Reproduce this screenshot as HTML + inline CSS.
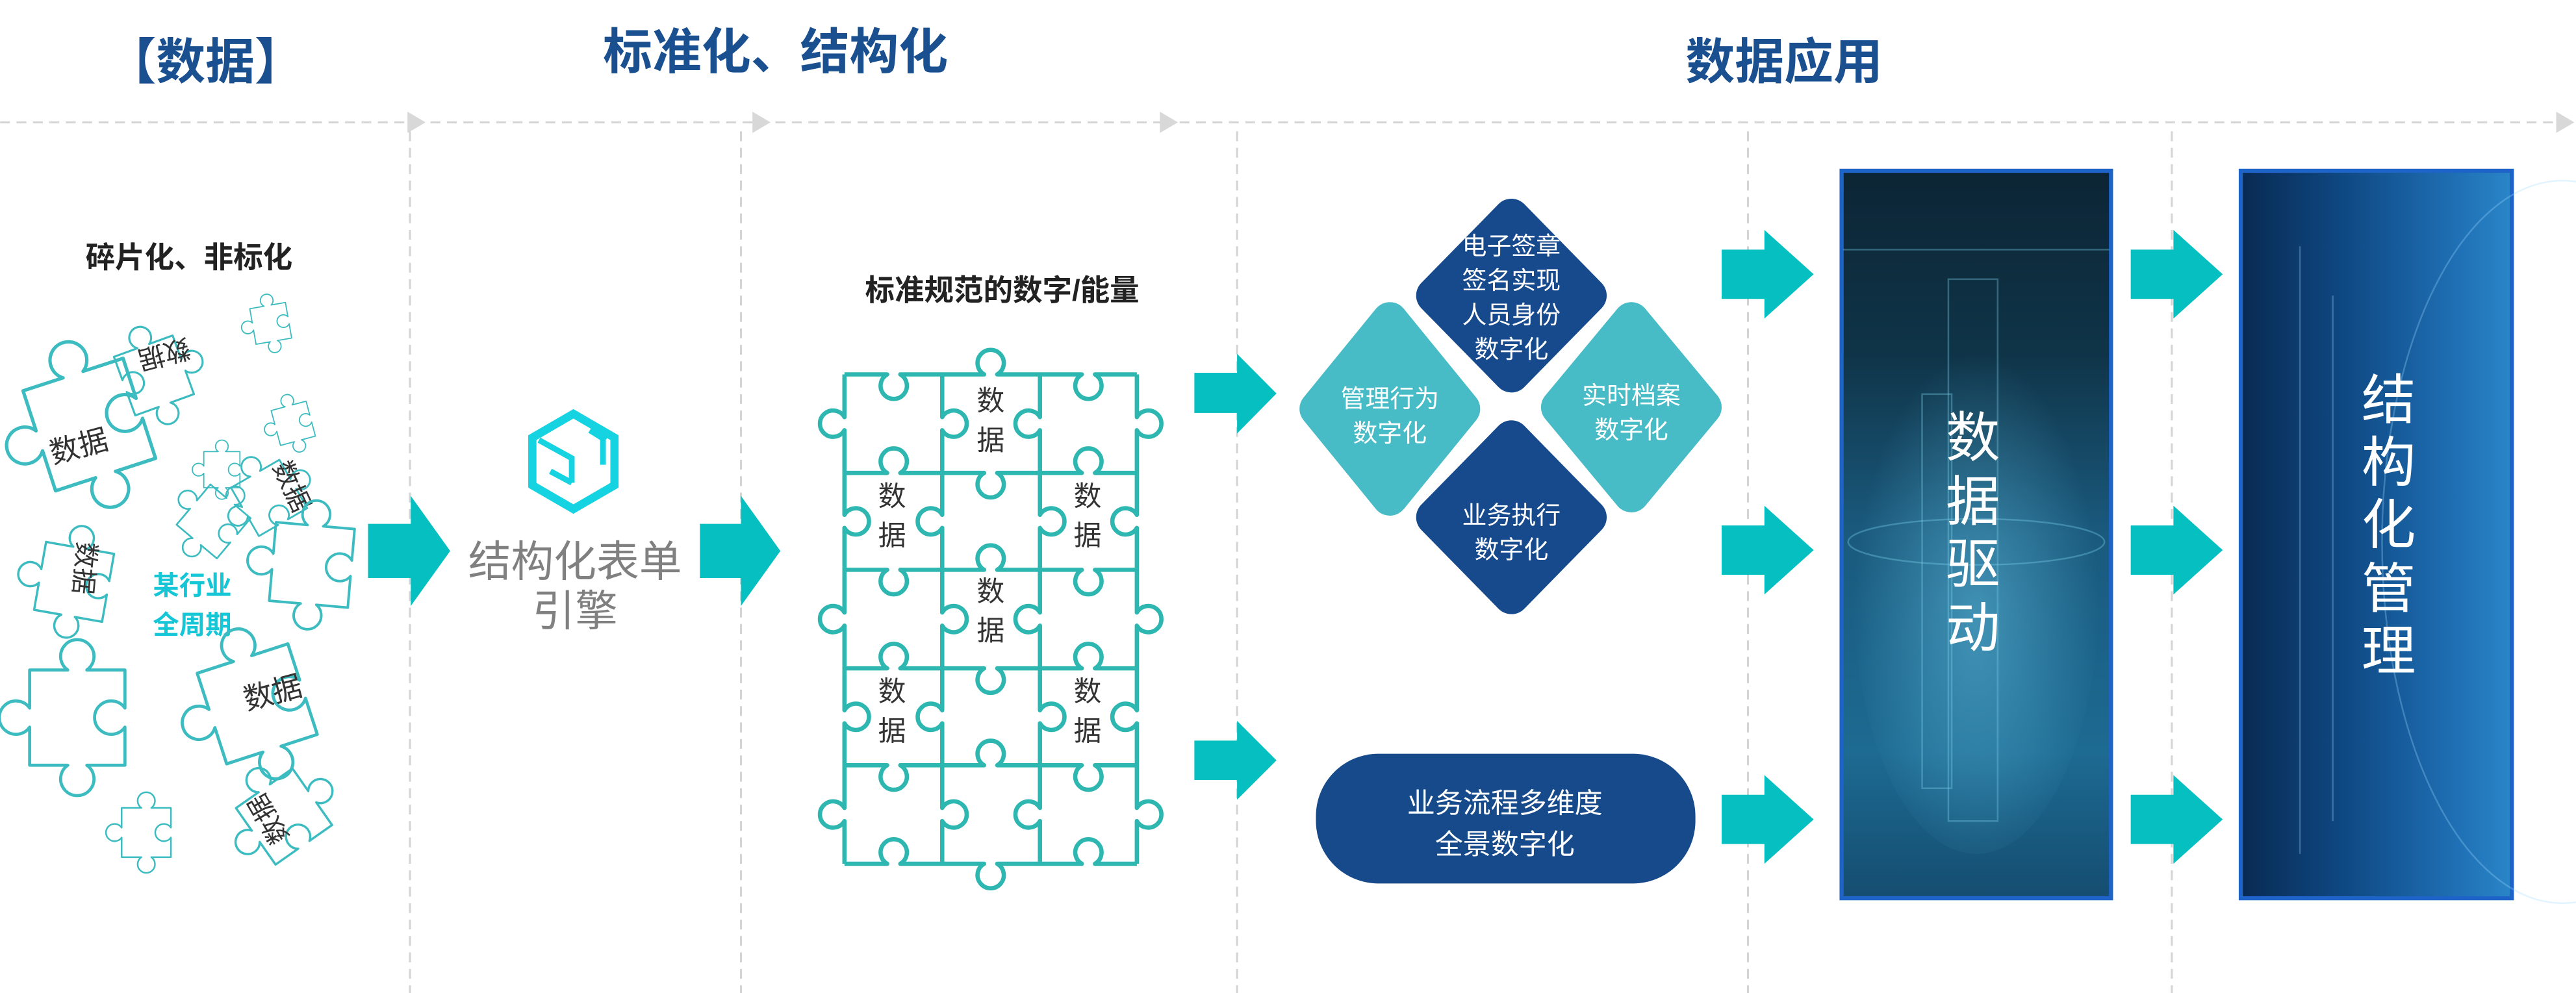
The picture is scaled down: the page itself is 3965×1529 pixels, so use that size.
<!DOCTYPE html>
<html><head><meta charset="utf-8"><style>
html,body{margin:0;padding:0;background:#fff;}
svg{display:block;}
text{font-family:"Liberation Sans","Noto Sans CJK SC",sans-serif;}
</style></head><body>
<svg width="3965" height="1529" viewBox="0 0 1568 604.7" xmlns="http://www.w3.org/2000/svg">
<defs>
<path id="pc" d="M0,0 H16 A7,7 0 1 1 24,0 H40 V16 A7,7 0 1 0 40,24 V40 H24 A7,7 0 1 1 16,40 H0 V24 A7,7 0 1 1 0,16 Z" fill="none" stroke="#3cbcc0" stroke-width="1.3" stroke-linejoin="round"/>
<linearGradient id="g1" x1="0" y1="0" x2="0" y2="1">
<stop offset="0" stop-color="#0c2535"/><stop offset="0.25" stop-color="#0f3448"/><stop offset="0.5" stop-color="#1a5a7e"/><stop offset="0.8" stop-color="#1d6a92"/><stop offset="1" stop-color="#154d70"/>
</linearGradient>
<linearGradient id="g2" x1="0" y1="0" x2="1" y2="0">
<stop offset="0" stop-color="#082a52"/><stop offset="0.4" stop-color="#0f4a85"/><stop offset="0.8" stop-color="#1f70b5"/><stop offset="1" stop-color="#2a86c8"/>
</linearGradient>
<radialGradient id="gl" cx="0.5" cy="0.55" r="0.5"><stop offset="0" stop-color="#6fd0f0" stop-opacity="0.45"/><stop offset="1" stop-color="#6fd0f0" stop-opacity="0"/></radialGradient>
</defs>

<!-- titles -->
<text x="125" y="48" font-size="30" font-weight="bold" fill="#1a5090" text-anchor="middle">【数据】</text>
<text x="472" y="42" font-size="30" font-weight="bold" fill="#1a5090" text-anchor="middle">标准化、结构化</text>
<text x="1086" y="48" font-size="30" font-weight="bold" fill="#1a5090" text-anchor="middle">数据应用</text>

<!-- dashed guides -->
<g stroke="#d4d4d4" stroke-width="1.2" stroke-dasharray="6,4" fill="none">
<line x1="0" y1="74.5" x2="250" y2="74.5"/>
<line x1="262" y1="74.5" x2="458" y2="74.5"/>
<line x1="472" y1="74.5" x2="708" y2="74.5"/>
<line x1="718" y1="74.5" x2="1556" y2="74.5"/>
<line x1="249.5" y1="80" x2="249.5" y2="605"/>
<line x1="451" y1="80" x2="451" y2="605"/>
<line x1="753" y1="80" x2="753" y2="605"/>
<line x1="1064" y1="80" x2="1064" y2="605"/>
<line x1="1322" y1="80" x2="1322" y2="605"/>
</g>
<g fill="#d8d8d8">
<polygon points="248,68 259,74.5 248,81"/>
<polygon points="458,68 469,74.5 458,81"/>
<polygon points="706,68 717,74.5 706,81"/>
<polygon points="1556,68 1567,74.5 1556,81"/>
</g>

<!-- left column -->
<text x="115" y="163" font-size="18" font-weight="bold" fill="#222" text-anchor="middle">碎片化、非标化</text>
<use href="#pc" transform="translate(14,238) rotate(-18) scale(1.6)"/>
<text x="48" y="278" font-size="18" fill="#333" text-anchor="middle" transform="rotate(-15 48 272)">数据</text>
<use href="#pc" transform="translate(118,240) rotate(160) scale(0.95)"/>
<text x="100" y="222" font-size="16" fill="#333" text-anchor="middle" transform="rotate(165 100 216)">数据</text>
<use href="#pc" transform="translate(152,188) rotate(-10) scale(0.55)"/>
<use href="#pc" transform="translate(165,250) rotate(-15) scale(0.55)"/>
<use href="#pc" transform="translate(124,275) scale(0.55)"/>
<use href="#pc" transform="translate(128,295) rotate(40) scale(0.8)"/>
<use href="#pc" transform="translate(170,280) rotate(60) scale(0.85)"/>
<text x="178" y="302" font-size="16" fill="#333" text-anchor="middle" transform="rotate(65 178 296)">数据</text>
<use href="#pc" transform="translate(28,330) rotate(10) scale(1.05)"/>
<text x="52" y="352" font-size="16" fill="#333" text-anchor="middle" transform="rotate(95 52 346)">数据</text>
<use href="#pc" transform="translate(168,318) rotate(5) scale(1.2)"/>
<text x="117" y="362" font-size="16" font-weight="bold" fill="#14c6d6" text-anchor="middle">某行业</text>
<text x="117" y="386" font-size="16" font-weight="bold" fill="#14c6d6" text-anchor="middle">全周期</text>
<use href="#pc" transform="translate(18,408) scale(1.45)"/>
<use href="#pc" transform="translate(120,410) rotate(-18) scale(1.45)"/>
<text x="166" y="428" font-size="18" fill="#333" text-anchor="middle" transform="rotate(-15 166 422)">数据</text>
<use href="#pc" transform="translate(178,468) rotate(55) scale(1.05)"/>
<text x="163" y="505" font-size="16" fill="#333" text-anchor="middle" transform="rotate(-120 163 499)">数据</text>
<use href="#pc" transform="translate(74,492) scale(0.75)"/>

<!-- big arrows -->
<g fill="#06bfc0">
<polygon points="224,319 250,319 250,302 274,335.5 250,369 250,352 224,352"/>
<polygon points="426,319 451,319 451,302 475,335.5 451,369 451,352 426,352"/>
<polygon points="727,227 753,227 753,215.5 777,239.6 753,264 753,251.5 727,251.5"/>
<polygon points="727,451 753,451 753,439 777,463 753,487 753,475 727,475"/>
<polygon points="1048,152 1074,152 1074,140 1104,167 1074,194 1074,182 1048,182"/>
<polygon points="1048,320 1074,320 1074,308 1104,335 1074,362 1074,350 1048,350"/>
<polygon points="1048,484 1074,484 1074,472 1104,499 1074,526 1074,514 1048,514"/>
<polygon points="1297,152 1323,152 1323,140 1353,167 1323,194 1323,182 1297,182"/>
<polygon points="1297,320 1323,320 1323,308 1353,335 1323,362 1323,350 1297,350"/>
<polygon points="1297,484 1323,484 1323,472 1353,499 1323,526 1323,514 1297,514"/>
</g>

<!-- icon -->
<g fill="none" stroke="#15d3e0" stroke-width="5" stroke-linejoin="miter">
<polygon points="349,252 374,266.5 374,295.5 349,310 324,295.5 324,266.5"/>
</g>
<g fill="none" stroke="#15d3e0" stroke-width="3.5">
<polyline points="328,268 348,279 348,294"/>
<polyline points="335,287 348,294"/>
<polyline points="359,262 367,267 370,264"/>
<line x1="367" y1="267" x2="367" y2="283"/>
</g>
<text x="350" y="351" font-size="26" fill="#808080" text-anchor="middle">结构化表单</text>
<text x="350" y="381" font-size="26" fill="#808080" text-anchor="middle">引擎</text>

<!-- jigsaw grid -->
<text x="610" y="183" font-size="18" font-weight="bold" fill="#222" text-anchor="middle">标准规范的数字/能量</text>
<g stroke="#2db7b0" stroke-width="2.6" fill="none" stroke-linejoin="round">
<path d="M514,228 H540 A8 8 0 1 0 548,228 H599 A8 8 0 1 1 607,228 H658.5 A8 8 0 1 0 666.5,228 H692"/>
<path d="M514,288 H540 A8 8 0 1 1 548,288 H599 A8 8 0 1 0 607,288 H658.5 A8 8 0 1 1 666.5,288 H692"/>
<path d="M514,347 H540 A8 8 0 1 0 548,347 H599 A8 8 0 1 1 607,347 H658.5 A8 8 0 1 0 666.5,347 H692"/>
<path d="M514,407 H540 A8 8 0 1 1 548,407 H599 A8 8 0 1 0 607,407 H658.5 A8 8 0 1 1 666.5,407 H692"/>
<path d="M514,466 H540 A8 8 0 1 0 548,466 H599 A8 8 0 1 1 607,466 H658.5 A8 8 0 1 0 666.5,466 H692"/>
<path d="M514,526 H540 A8 8 0 1 1 548,526 H599 A8 8 0 1 0 607,526 H658.5 A8 8 0 1 1 666.5,526 H692"/>
<path d="M514,228 V254 A8 8 0 1 0 514,262 V313.5 A8 8 0 1 1 514,321.5 V373 A8 8 0 1 0 514,381 V432.5 A8 8 0 1 1 514,440.5 V492 A8 8 0 1 0 514,500 V526"/>
<path d="M573.5,228 V254 A8 8 0 1 1 573.5,262 V313.5 A8 8 0 1 0 573.5,321.5 V373 A8 8 0 1 1 573.5,381 V432.5 A8 8 0 1 0 573.5,440.5 V492 A8 8 0 1 1 573.5,500 V526"/>
<path d="M633,228 V254 A8 8 0 1 0 633,262 V313.5 A8 8 0 1 1 633,321.5 V373 A8 8 0 1 0 633,381 V432.5 A8 8 0 1 1 633,440.5 V492 A8 8 0 1 0 633,500 V526"/>
<path d="M692,228 V254 A8 8 0 1 1 692,262 V313.5 A8 8 0 1 0 692,321.5 V373 A8 8 0 1 1 692,381 V432.5 A8 8 0 1 0 692,440.5 V492 A8 8 0 1 1 692,500 V526"/>
</g>
<g font-size="17" fill="#333" text-anchor="middle">
<text x="603" y="250">数</text><text x="603" y="274">据</text>
<text x="543" y="308">数</text><text x="543" y="332">据</text>
<text x="662" y="308">数</text><text x="662" y="332">据</text>
<text x="603" y="366">数</text><text x="603" y="390">据</text>
<text x="543" y="427">数</text><text x="543" y="451">据</text>
<text x="662" y="427">数</text><text x="662" y="451">据</text>
</g>

<!-- diamonds -->
<g stroke-linejoin="round" stroke-width="22">
<polygon points="920,132 967,180 920,228 873,180" fill="#174a8c" stroke="#174a8c"/>
<polygon points="846,195 890,249 846,303 802,249" fill="#47bcc6" stroke="#47bcc6"/>
<polygon points="993,195 1037,248 993,301 949,248" fill="#47bcc6" stroke="#47bcc6"/>
<polygon points="920,267 967,315 920,363 873,315" fill="#174a8c" stroke="#174a8c"/>
</g>
<g font-size="15" fill="#fff" text-anchor="middle">
<text x="920" y="155">电子签章</text><text x="920" y="176">签名实现</text><text x="920" y="197">人员身份</text><text x="920" y="218">数字化</text>
<text x="846" y="248">管理行为</text><text x="846" y="269">数字化</text>
<text x="993" y="246">实时档案</text><text x="993" y="267">数字化</text>
<text x="920" y="319">业务执行</text><text x="920" y="340">数字化</text>
</g>
<rect x="801" y="459" width="231" height="79" rx="38" fill="#164a8a"/>
<text x="916" y="495" font-size="17" fill="#fff" text-anchor="middle">业务流程多维度</text>
<text x="916" y="520" font-size="17" fill="#fff" text-anchor="middle">全景数字化</text>

<!-- panels -->
<rect x="1121" y="104" width="164" height="443" fill="url(#g1)" stroke="#1e63c8" stroke-width="2.5"/>
<ellipse cx="1203" cy="360" rx="75" ry="160" fill="url(#gl)"/>
<g stroke="#7fd4ee" stroke-opacity="0.35" stroke-width="1" fill="none">
<rect x="1186" y="170" width="30" height="330"/><rect x="1170" y="240" width="18" height="240"/>
<line x1="1122" y1="152" x2="1284" y2="152"/>
<ellipse cx="1203" cy="330" rx="78" ry="14"/>
</g>
<g font-size="33" fill="#fff" text-anchor="middle">
<text x="1201" y="278">数</text><text x="1201" y="317">据</text><text x="1201" y="355">驱</text><text x="1201" y="394">动</text>
</g>
<rect x="1364" y="104" width="165" height="443" fill="url(#g2)" stroke="#1e63c8" stroke-width="2.5"/>
<g stroke="#9fdcff" stroke-opacity="0.3" stroke-width="1" fill="none">
<ellipse cx="1560" cy="330" rx="110" ry="220"/>
<line x1="1400" y1="150" x2="1400" y2="520"/><line x1="1420" y1="180" x2="1420" y2="500"/>
</g>
<g font-size="33" fill="#fff" text-anchor="middle">
<text x="1454" y="255">结</text><text x="1454" y="293">构</text><text x="1454" y="331">化</text><text x="1454" y="370">管</text><text x="1454" y="408">理</text>
</g>
</svg>
</body></html>
